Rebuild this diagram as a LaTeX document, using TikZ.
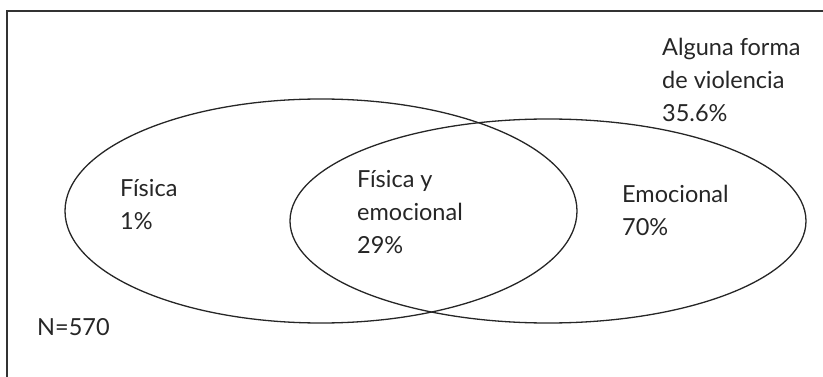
\documentclass[tikz,border=0pt]{standalone}
\usepackage{fontspec}
\setmainfont{Lato}
\begin{document}
\begin{tikzpicture}[x=1pt,y=-1pt,
  frame/.style={draw=black!80,line width=1.4pt},
  venn/.style={draw=black!85,line width=1.3pt},
  lbl/.style={font=\fontsize{23.5}{33}\selectfont,align=left,anchor=north west,inner sep=0pt,text=black!85}]
\useasboundingbox (0,0) rectangle (823,377);
\draw[frame] (823,11) -- (7,11) -- (7,377);
\draw[venn] (321,211) ellipse [x radius=256pt, y radius=112pt];
\draw[venn] (548,221) ellipse [x radius=258pt, y radius=102pt];
\node[lbl] (fis) at (120,179) {Física\\1\%};
\node[lbl] (fye) at (357,170) {Física y\\emocional\\29\%};
\node[lbl] (emo) at (622,185) {Emocional\\70\%};
\node[lbl] (alg) at (662,38) {Alguna forma\\de violencia\\35.6\%};
\node[lbl] (n) at (37,318) {N=570};
\end{tikzpicture}
\end{document}
